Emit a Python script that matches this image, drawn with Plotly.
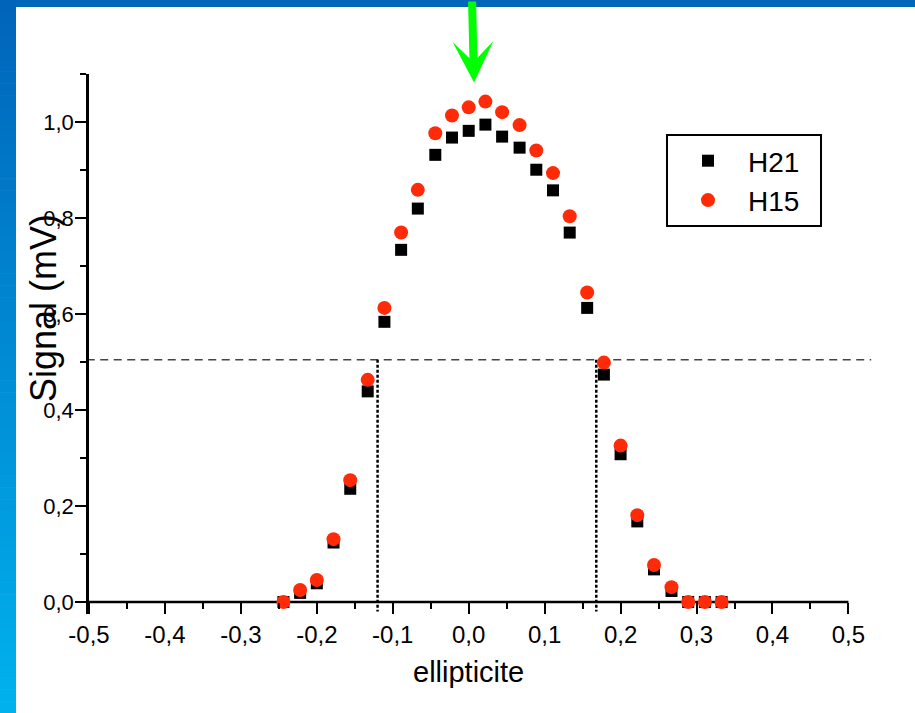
import plotly.graph_objects as go

# ---------------- data ----------------
ellipticite = [-0.244, -0.222, -0.200, -0.178, -0.156, -0.133, -0.111, -0.089, -0.067,
               -0.044, -0.022, 0.000, 0.022, 0.044, 0.067, 0.089, 0.111, 0.133,
               0.156, 0.178, 0.200, 0.222, 0.244, 0.267, 0.289, 0.311, 0.333]
h21 = [0.000, 0.019, 0.039, 0.124, 0.236, 0.439, 0.584, 0.734, 0.820,
       0.932, 0.968, 0.982, 0.995, 0.970, 0.947, 0.901, 0.858, 0.770,
       0.613, 0.474, 0.308, 0.168, 0.068, 0.023, 0.000, 0.000, 0.000]
h15 = [0.000, 0.025, 0.046, 0.131, 0.254, 0.463, 0.613, 0.770, 0.859,
       0.977, 1.014, 1.031, 1.043, 1.021, 0.994, 0.941, 0.894, 0.804,
       0.645, 0.499, 0.326, 0.181, 0.077, 0.031, 0.000, 0.000, 0.000]

x_ticks = [-0.5, -0.4, -0.3, -0.2, -0.1, 0.0, 0.1, 0.2, 0.3, 0.4, 0.5]
x_ticktext = ["-0,5", "-0,4", "-0,3", "-0,2", "-0,1", "0,0", "0,1", "0,2", "0,3", "0,4", "0,5"]
y_ticks = [0.0, 0.2, 0.4, 0.6, 0.8, 1.0]
y_ticktext = ["0,0", "0,2", "0,4", "0,6", "0,8", "1,0"]

half_max_level = 0.505          # dashed horizontal line
fwhm_left, fwhm_right = -0.120, 0.168   # dotted vertical lines
arrow_x, arrow_y = 0.007, 1.083  # green arrow tip (points at the maximum)

# ---------------- layout geometry ----------------
W, H = 915, 713
ML, MR, MT, MB = 89, 40, 74, 99
PW, PH = W - ML - MR, H - MT - MB
X_RANGE = [-0.5, 0.535]
Y_RANGE = [-0.025, 1.1005]
FONT = "Liberation Sans, Arial, sans-serif"


def pxx(X):
    return (X - ML) / PW


def pxy(Y):
    return (H - MB - Y) / PH


fig = go.Figure()

fig.add_trace(go.Scatter(
    x=ellipticite, y=h21, mode="markers", name="H21\u00a0\u00a0",
    marker=dict(symbol="square", size=12, color="black"),
    cliponaxis=False,
))
fig.add_trace(go.Scatter(
    x=ellipticite, y=h15, mode="markers", name="H15\u00a0\u00a0",
    marker=dict(symbol="circle", size=14, color="#FF2B08"),
    cliponaxis=False,
))

shapes = []
# slide decoration: top bar and gradient left bar
shapes.append(dict(type="rect", xref="paper", yref="paper", layer="below",
                   x0=pxx(0), x1=pxx(W), y0=pxy(7), y1=pxy(0),
                   fillcolor="rgb(0,102,186)", line=dict(width=0)))
N = 60
top_c = (0, 100, 186)
bot_c = (0, 178, 238)
for i in range(N):
    t = (i + 0.5) / N
    c = tuple(int(round(top_c[k] + (bot_c[k] - top_c[k]) * t)) for k in range(3))
    y0 = H * i / N
    y1 = H * (i + 1) / N + 0.6
    shapes.append(dict(type="rect", xref="paper", yref="paper", layer="below",
                       x0=pxx(0), x1=pxx(16), y0=pxy(y1), y1=pxy(y0),
                       fillcolor="rgb(%d,%d,%d)" % c, line=dict(width=0)))

# x axis line (from -0.5 to 0.5 only)
shapes.append(dict(type="line", xref="x", yref="y", x0=-0.5, x1=0.5, y0=0, y1=0,
                   line=dict(color="black", width=2.5), layer="below"))
# half maximum dashed line
shapes.append(dict(type="line", xref="x", yref="y", x0=-0.503, x1=0.53,
                   y0=half_max_level, y1=half_max_level,
                   line=dict(color="#444444", width=1.5, dash="8px,5.5px"), layer="below"))
# dotted verticals
for xv in (fwhm_left, fwhm_right):
    shapes.append(dict(type="line", xref="x", yref="y", x0=xv, x1=xv,
                       y0=half_max_level, y1=-0.02,
                       line=dict(color="black", width=2.5, dash="3px,2px"), layer="below"))

annotations = [
    dict(text="ellipticite", xref="x", yref="paper", x=0.0, y=pxy(672),
         showarrow=False, xanchor="center", yanchor="middle",
         font=dict(family=FONT, size=29, color="black")),
    dict(text="Signal (mV)", xref="paper", yref="paper", x=pxx(43), y=pxy(308),
         showarrow=False, xanchor="center", yanchor="middle", textangle=-90,
         font=dict(family=FONT, size=36, color="black")),
    dict(text="", xref="x", yref="y", x=arrow_x, y=arrow_y,
         showarrow=True, ax=-2, ay=-86, axref="pixel", ayref="pixel",
         arrowhead=3, arrowwidth=8, arrowsize=0.85, arrowcolor="#00FF00"),
]

fig.update_layout(
    width=W, height=H, autosize=False,
    margin=dict(l=ML, r=MR, t=MT, b=MB, pad=0),
    paper_bgcolor="white", plot_bgcolor="white",
    font=dict(family=FONT, color="black"),
    shapes=shapes,
    annotations=annotations,
    showlegend=True,
    legend=dict(x=pxx(666), y=pxy(134), xanchor="left", yanchor="top",
                bgcolor="white", bordercolor="black", borderwidth=2,
                font=dict(family=FONT, size=28, color="black"),
                itemwidth=70, tracegroupgap=0),
    xaxis=dict(
        range=X_RANGE, anchor="free", position=(0 - Y_RANGE[0]) / (Y_RANGE[1] - Y_RANGE[0]),
        showgrid=False, zeroline=False, showline=False,
        tickmode="array", tickvals=x_ticks, ticktext=x_ticktext,
        ticks="outside", ticklen=11, tickwidth=2, tickcolor="black",
        tickfont=dict(family=FONT, size=24, color="black"),
        minor=dict(tickmode="array", tickvals=[-0.45, -0.35, -0.25, -0.15, -0.05,
                                                0.05, 0.15, 0.25, 0.35, 0.45],
                   ticks="outside", ticklen=6, tickwidth=2, tickcolor="black", showgrid=False),
    ),
    yaxis=dict(
        range=Y_RANGE, showgrid=False, zeroline=False,
        showline=True, linecolor="black", linewidth=2.5,
        tickmode="array", tickvals=y_ticks, ticktext=y_ticktext,
        ticks="outside", ticklen=11, tickwidth=2, tickcolor="black",
        ticklabelstandoff=-3,
        tickfont=dict(family=FONT, size=22, color="black"),
        minor=dict(tickmode="array", tickvals=[0.1, 0.3, 0.5, 0.7, 0.9, 1.1],
                   ticks="outside", ticklen=6, tickwidth=2, tickcolor="black", showgrid=False),
    ),
)

fig.write_html("out.html", config={"displayModeBar": False},
               post_script="document.body.style.margin='0';document.body.style.padding='0';")
